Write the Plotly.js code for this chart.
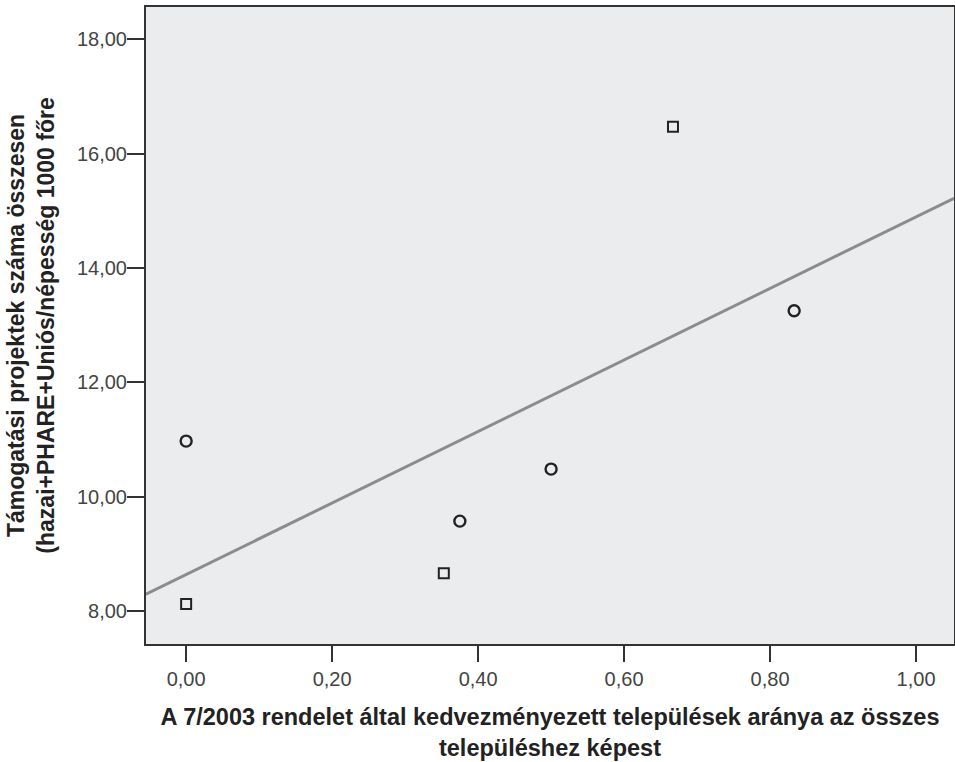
<!DOCTYPE html>
<html>
<head>
<meta charset="utf-8">
<script src="https://cdn.plot.ly/plotly-3.0.1.min.js"></script>
<style>html,body{margin:0;padding:0;background:#fff;}#chart{width:955px;height:762px;}</style>
</head>
<body>
<div id="chart"></div>
<script>
// Data
const squareX = [0.0, 0.353, 0.667];
const squareY = [8.12, 8.66, 16.47];
const circleX = [0.0, 0.375, 0.5, 0.833];
const circleY = [10.97, 9.57, 10.48, 13.25];
const xTickVals = [0, 0.2, 0.4, 0.6, 0.8, 1.0];
const xTickText = ["0,00", "0,20", "0,40", "0,60", "0,80", "1,00"];
const yTickVals = [8, 10, 12, 14, 16, 18];
const yTickText = ["8,00", "10,00", "12,00", "14,00", "16,00", "18,00"];
const xRange = [-0.055, 1.052];
const yRange = [7.42, 18.565];

// Linear fit over all points
const allX = squareX.concat(circleX);
const allY = squareY.concat(circleY);
const n = allX.length;
const mx = allX.reduce((a, b) => a + b, 0) / n;
const my = allY.reduce((a, b) => a + b, 0) / n;
let sxy = 0, sxx = 0;
for (let i = 0; i < n; i++) { sxy += (allX[i] - mx) * (allY[i] - my); sxx += (allX[i] - mx) ** 2; }
const slope = sxy / sxx;
const intercept = my - slope * mx;
const fitX = [xRange[0], xRange[1]];
const fitY = fitX.map(x => intercept + slope * x);

const font = "Liberation Sans, Arial, sans-serif";
const traces = [
  {x: fitX, y: fitY, mode: "lines", line: {color: "#8c8c8c", width: 3}, hoverinfo: "skip"},
  {x: squareX, y: squareY, mode: "markers",
   marker: {symbol: "square-open", size: 10, color: "#222", line: {width: 2, color: "#222"}}},
  {x: circleX, y: circleY, mode: "markers",
   marker: {symbol: "circle-open", size: 11, color: "#222", line: {width: 2.4, color: "#222"}}}
];

const layout = {
  width: 955, height: 762,
  margin: {l: 146, r: 1, t: 7, b: 118},
  paper_bgcolor: "#ffffff",
  plot_bgcolor: "#ebecee",
  showlegend: false,
  font: {family: font, color: "#333", size: 20},
  xaxis: {
    range: xRange, tickvals: xTickVals, ticktext: xTickText,
    ticks: "outside", ticklen: 16, tickwidth: 2, tickcolor: "#333",
    showgrid: false, zeroline: false,
    showline: true, linecolor: "#333", linewidth: 2, mirror: true,
    tickfont: {size: 20, color: "#444"},
    title: {text: "<b>A 7/2003 rendelet által kedvezményezett települések aránya az összes<br>településhez képest</b>",
            font: {size: 23.5, color: "#222"}, standoff: 20}
  },
  yaxis: {
    range: yRange, tickvals: yTickVals, ticktext: yTickText,
    ticks: "outside", ticklen: 17, tickwidth: 2, tickcolor: "#333",
    ticklabelstandoff: -4,
    showgrid: false, zeroline: false,
    showline: true, linecolor: "#333", linewidth: 2, mirror: true,
    tickfont: {size: 20, color: "#444"},
    title: {text: "<b>Támogatási projektek száma összesen<br>(hazai+PHARE+Uniós/népesség 1000 főre</b>",
            font: {size: 23, color: "#222"}, standoff: 16}
  }
};

Plotly.newPlot("chart", traces, layout, {displayModeBar: false, staticPlot: true});
</script>
</body>
</html>
